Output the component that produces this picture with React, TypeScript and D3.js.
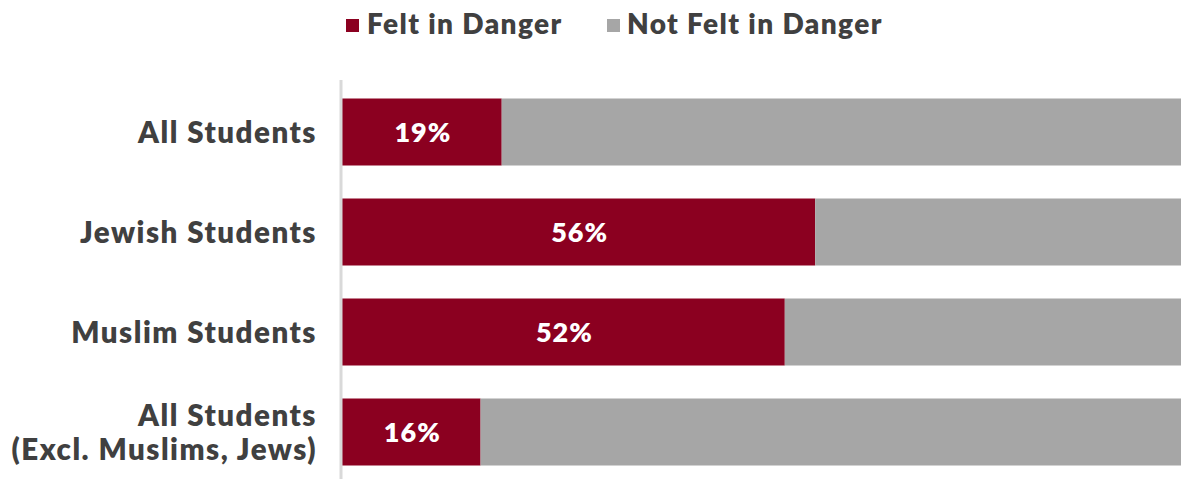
import React from "react";
import * as d3 from "d3";

const categories = ["All Students", "Jewish Students", "Muslim Students", "All Students\n(Excl. Muslims, Jews)"];
const feltInDanger = [18.9, 56, 52.4, 16.4];
const notFeltInDanger = [81.1, 44, 47.6, 83.6];
const seriesNames = ["Felt in Danger", "Not Felt in Danger"];
const seriesColors = ["#8B0020", "#A6A6A6"];

const W = 1181;
const H = 479;

export default function App() {
  const x = d3.scaleLinear().domain([0, 100]).range([342, 1187]);
  const y = d3.scaleBand().domain(categories).range([82, 482]).paddingInner(0.33).paddingOuter(0.165);
  const font = "'Lato', 'Open Sans', sans-serif";
  const ls = 1.4;
  const fmt = d3.format(".0f");
  return (
    <svg width={W} height={H} style={{ position: "absolute", left: 0, top: 0, background: "#fff" }} fontFamily={font}>
      {/* legend */}
      <rect x={346} y={19} width={13} height={13} fill={seriesColors[0]} />
      <text x={367} y={34} fontSize={28} fontWeight={800} letterSpacing={ls} fill="#404040">{seriesNames[0]}</text>
      <rect x={607} y={19} width={13} height={13} fill={seriesColors[1]} />
      <text x={627} y={34} fontSize={28} fontWeight={800} letterSpacing={ls} fill="#404040">{seriesNames[1]}</text>
      {categories.map((c, i) => {
        const y0 = y(c)!;
        const bh = y.bandwidth();
        const lines = c.split("\n");
        const cy = y0 + bh / 2;
        return (
          <g key={c}>
            <rect x={x(0)} y={y0} width={x(feltInDanger[i]) - x(0)} height={bh} fill={seriesColors[0]} />
            <rect x={x(feltInDanger[i])} y={y0} width={x(feltInDanger[i] + notFeltInDanger[i]) - x(feltInDanger[i])} height={bh} fill={seriesColors[1]} />
            <text x={(x(0) + x(feltInDanger[i])) / 2 + 1} y={cy} dy="0.36em" textAnchor="middle" fontSize={27} fontWeight={800} letterSpacing={1} fill="#fff">
              {fmt(feltInDanger[i])}%
            </text>
            {lines.map((l, j) => (
              <text key={j} x={317} y={cy + (j - (lines.length - 1) / 2) * 34} dy="0.36em" textAnchor="end" fontSize={29.5} fontWeight={800} letterSpacing={1.5} fill="#404040">
                {l}
              </text>
            ))}
          </g>
        );
      })}
      <line x1={341} x2={341} y1={80} y2={479} stroke="#D9D9D9" strokeWidth={3} />
    </svg>
  );
}
